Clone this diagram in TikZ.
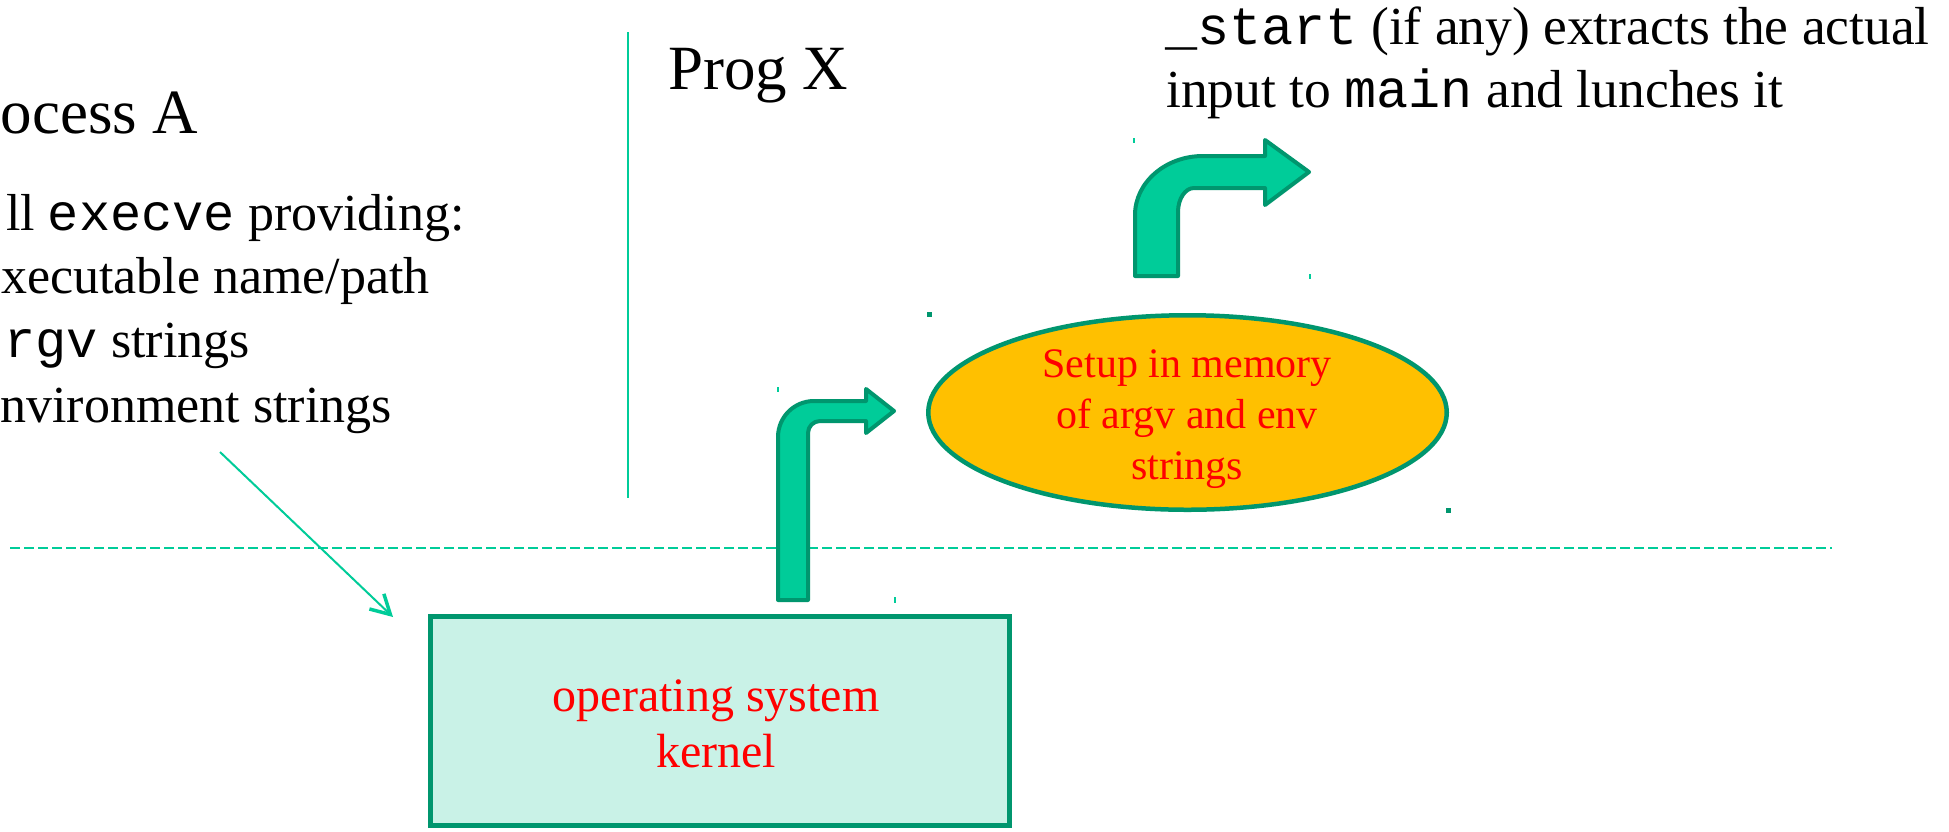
\documentclass[tikz,border=0pt]{standalone}
\usepackage{fontspec}
\setmainfont{Liberation Serif}
\setmonofont{Liberation Mono}
\usetikzlibrary{arrows.meta,shapes.geometric}
\definecolor{lineteal}{HTML}{00CC99}
\definecolor{arrowfill}{HTML}{00CC99}
\definecolor{dkgreen}{HTML}{00966E}
\definecolor{mint}{HTML}{C9F2E7}
\definecolor{amber}{HTML}{FFC000}
\definecolor{labelred}{HTML}{FF0000}
\begin{document}
\begin{tikzpicture}[x=1pt,y=-1pt,
  title/.style={font=\fontsize{63}{70}\selectfont, inner sep=0},
  body/.style={font=\fontsize{52}{62}\selectfont, inner sep=0},
  bodyright/.style={font=\fontsize{53.5}{63}\selectfont, inner sep=0},
  guide/.style={draw=lineteal, line width=2pt},
  separator/.style={draw=lineteal, line width=2.5pt, dash pattern=on 10pt off 4pt},
  pointer/.style={draw=lineteal, line width=2pt, -{Straight Barb[length=19pt,width=21pt,line width=3.5pt]}},
  bentarrow/.style={fill=arrowfill, draw=dkgreen, line width=4pt, line join=round},
  kernelbox/.style={rectangle, draw=dkgreen, fill=mint, line width=5pt, minimum width=579pt, minimum height=209pt, inner sep=0},
  membox/.style={ellipse, draw=dkgreen, fill=amber, line width=4.5pt, minimum width=518.5pt, minimum height=194.5pt, inner sep=0},
  redlabel/.style={text=labelred, align=center, inner sep=0},
  handle/.style={rectangle, fill=dkgreen, minimum size=5pt, inner sep=0},
  tick/.style={draw=lineteal, line width=1.5pt}
]
\fill[white] (0,0) rectangle (1949,831);
\useasboundingbox (0,0) rectangle (1949,831);

% titles
\node[title, anchor=base west] (procA) at (0.5,133) {ocess A};
\node[title, anchor=base west] (progX) at (668,89) {Prog X};

% left text block
\node[body, anchor=base east] (l1) at (465,230) {ll \texttt{execve} providing:};
\node[body, anchor=base east] (l2) at (430,293) {xecutable name/path};
\node[body, anchor=base east] (l3) at (250,357) {\texttt{rgv} strings};
\node[body, anchor=base east] (l4) at (392,422) {nvironment strings};

% top right text
\node[bodyright, anchor=base west] (s1) at (1165,44) {\texttt{\_start} (if any) extracts the actual};
\node[bodyright, anchor=base west] (s2) at (1166,107) {input to \texttt{main} and lunches it};

% guide lines
\coordinate (vtop) at (628,32);
\coordinate (vbot) at (628,498);
\draw[guide] (vtop) -- (vbot);
\coordinate (dl) at (10,548);
\coordinate (dr) at (1832,548);
\draw[separator] (dl) -- (dr);

% kernel box
\node[kernelbox] (kernel) at (720,721) {};
\node[redlabel, font=\fontsize{48}{56}\selectfont] (kernellabel) at (716,723.5) {operating system\\kernel};

% pointer from text to kernel
\coordinate (pstart) at (220,452);
\coordinate (ptip) at (393,617);
\draw[pointer] (pstart) -- (ptip);

% memory ellipse
\node[membox] (mem) at (1187.5,412.5) {};
\node[redlabel, font=\fontsize{42}{51}\selectfont] (memlabel) at (1187,419) {Setup in memory\\of argv and env\\strings};

% selection handles / marks
\node[handle] (h1) at (929,314) {};
\node[handle] (h2) at (1448,510) {};
\draw[tick] (778,387) -- (778,392);
\draw[tick] (895,597) -- (895,603);
\draw[tick] (1134,138) -- (1134,143);
\draw[tick] (1310,274) -- (1310,279);

% lower bent arrow (kernel -> memory)
\draw[bentarrow] (778,600) -- (778,437) .. controls (778,417.1) and (794.1,401) .. (814,401)
  -- (866,401) -- (866,389) -- (894,411) -- (866,433) -- (866,421) -- (820,421)
  .. controls (813.4,421) and (808,426.4) .. (808,433) -- (808,600) -- cycle;

% upper bent arrow (memory -> main)
\draw[bentarrow] (1135,276) -- (1135,215) .. controls (1135,182.4) and (1165.5,156) .. (1203,156)
  -- (1265,156) -- (1265,140) -- (1309,172) -- (1265,205) -- (1265,188) -- (1194,188)
  .. controls (1185.2,188) and (1178,198.8) .. (1178,212) -- (1178,276) -- cycle;
\end{tikzpicture}
\end{document}
